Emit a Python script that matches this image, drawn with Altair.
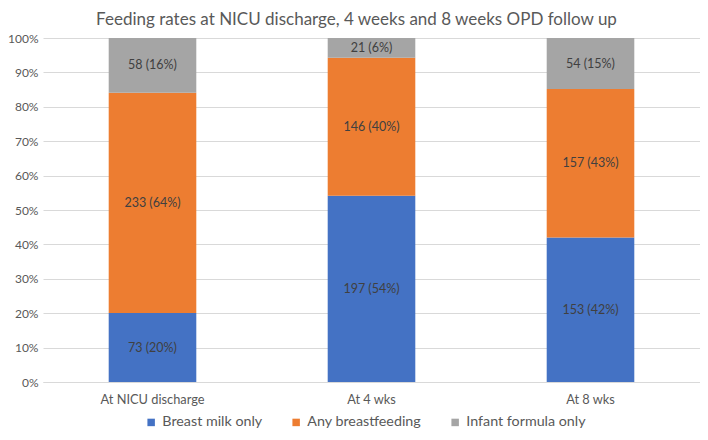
import altair as alt
import pandas as pd

categories = ["At NICU discharge", "At 4 wks", "At 8 wks"]
series = ["Breast milk only", "Any breastfeeding", "Infant formula only"]
colors = ["#4472C4", "#ED7D31", "#A5A5A5"]
breast_milk_only = [73, 197, 153]
any_breastfeeding = [233, 146, 157]
infant_formula_only = [58, 21, 54]
y_ticks = [0.0, 0.1, 0.2, 0.3, 0.4, 0.5, 0.6, 0.7, 0.8, 0.9, 1.0]

rows = []
for i, c in enumerate(categories):
    for j, (s, vals) in enumerate(zip(series, [breast_milk_only, any_breastfeeding, infant_formula_only])):
        rows.append({"cat": c, "series": s, "idx": j, "cnt": vals[i]})
df = pd.DataFrame(rows)

FONT = "Lato"
base = alt.Chart(df).transform_stack(
    stack="cnt", groupby=["cat"], as_=["y0", "y1"], offset="normalize",
    sort=[alt.SortField("idx", order="ascending")]
).transform_joinaggregate(total="sum(cnt)", groupby=["cat"]).transform_calculate(
    mid="(datum.y0 + datum.y1) / 2",
    label="datum.cnt + ' (' + round(100 * datum.cnt / datum.total) + '%)'"
)

xscale = alt.Scale(paddingInner=0.6, paddingOuter=0.3)
yscale = alt.Scale(domain=[0, 1])
xaxis = alt.Axis(labelAngle=0, labelColor="#595959", labelFont=FONT, labelFontSize=12.8,
                 ticks=False, domainColor="#D9D9D9", labelPadding=11)
yaxis = alt.Axis(format=".0%", values=y_ticks, labelColor="#595959",
                 labelFont=FONT, labelFontSize=12, ticks=False, domain=False,
                 gridColor="#D9D9D9", labelPadding=5, labelOverlap=False)

bars = base.mark_bar().encode(
    x=alt.X("cat:N", sort=categories, title=None, scale=xscale, axis=xaxis),
    y=alt.Y("y0:Q", title=None, scale=yscale, axis=yaxis),
    y2="y1:Q",
    color=alt.Color("series:N", sort=series, scale=alt.Scale(domain=series, range=colors),
                    legend=alt.Legend(title=None, orient="none", direction="horizontal",
                                      legendX=101, legendY=377, symbolType="square", symbolSize=56,
                                      symbolStrokeWidth=0, labelFont=FONT, labelFontSize=14.3,
                                      labelColor="#595959", columnPadding=26, labelOffset=4)),
)

text = base.mark_text(font=FONT, fontSize=12.5, color="#404040").encode(
    x=alt.X("cat:N", sort=categories, title=None, scale=xscale, axis=xaxis),
    y=alt.Y("mid:Q", title=None, scale=yscale, axis=yaxis),
    text="label:N",
)

chart = (bars + text).properties(
    width=657, height=344,
    title=alt.TitleParams("Feeding rates at NICU discharge, 4 weeks and 8 weeks OPD follow up",
                          font=FONT, fontSize=17, fontWeight="normal", color="#595959",
                          anchor="middle", offset=3, dx=-15),
    padding={"left": 35, "top": 30, "right": 0, "bottom": 50},
    autosize=alt.AutoSizeParams(type="none"),
).configure_view(stroke=None)

chart.save("out.html", embed_options={"renderer": "svg", "actions": False})
